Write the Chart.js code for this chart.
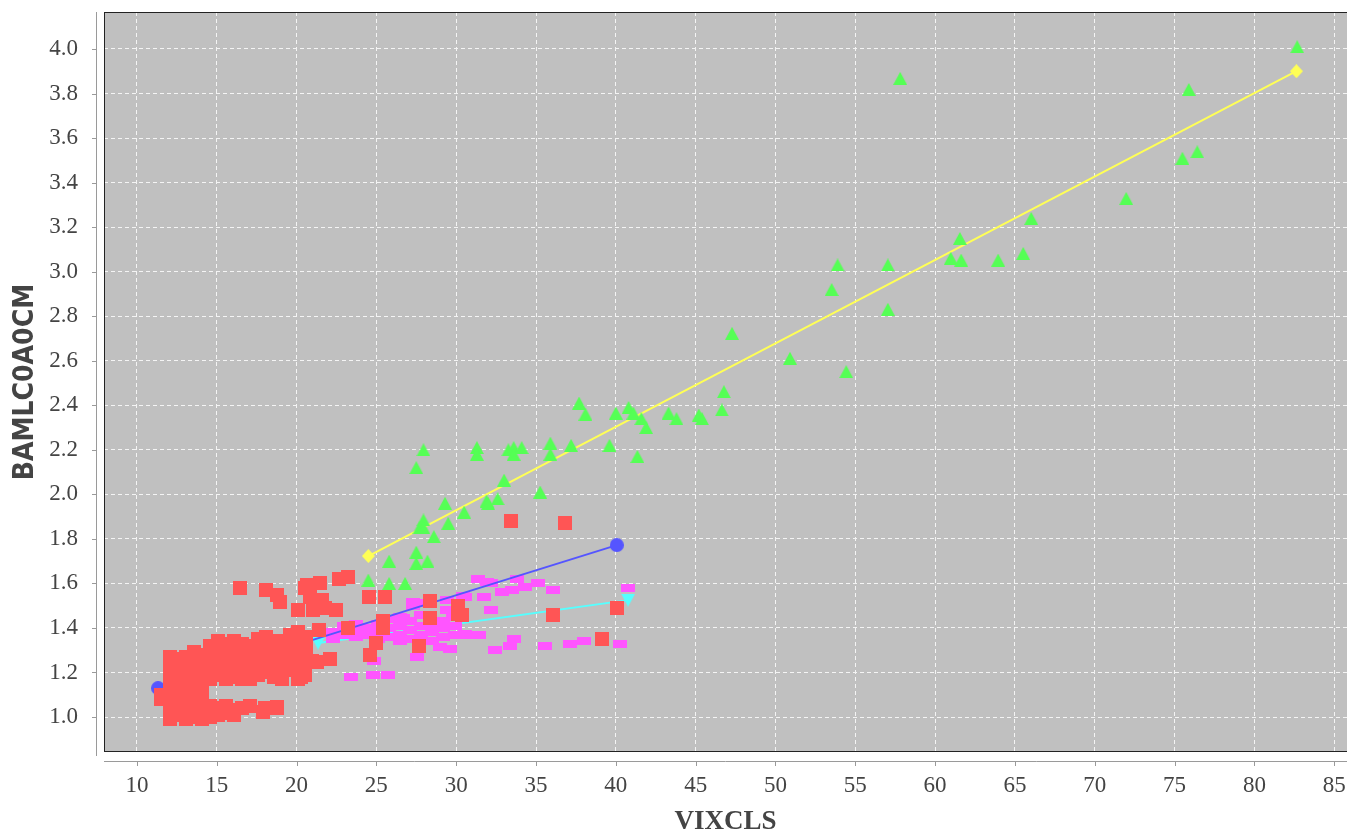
<!DOCTYPE html>
<html>

<head>
    <title>VIXCLS vs BAMLC0A0CM</title>
    <script src="https://cdn.jsdelivr.net/npm/chart.js"></script>
</head>

<body style="margin: 0; background-color: white; overflow: hidden;">

    <div style="width: 1347px; height: 834px;">
        <canvas id="grafico" width="1347" height="834" style="display: block;"></canvas>
    </div>

    <script>
        // red squares, low VIX regime
        const lowVol = [
            [11.5, 1.08], [11.5, 1.10],
            [12.1, 1.27], [12.1, 1.22], [12.1, 1.17], [12.1, 1.12], [12.1, 1.07], [12.1, 1.03], [12.1, 0.99],
            [12.6, 1.26], [12.6, 1.21], [12.6, 1.16], [12.6, 1.11], [12.6, 1.06], [12.6, 1.01],
            [13.1, 1.27], [13.1, 1.22], [13.1, 1.17], [13.1, 1.12], [13.1, 1.07], [13.1, 1.02], [13.1, 0.99],
            [13.6, 1.29], [13.6, 1.24], [13.6, 1.19], [13.6, 1.14], [13.6, 1.09], [13.6, 1.04], [13.6, 1.00],
            [14.1, 1.28], [14.1, 1.23], [14.1, 1.18], [14.1, 1.13], [14.1, 1.08], [14.1, 1.03], [14.1, 0.99],
            [14.6, 1.32], [14.6, 1.27], [14.6, 1.22], [14.6, 1.17], [14.6, 1.05], [14.6, 1.00],
            [15.1, 1.34], [15.1, 1.29], [15.1, 1.24], [15.1, 1.19], [15.1, 1.04], [15.1, 1.01],
            [15.6, 1.33], [15.6, 1.28], [15.6, 1.23], [15.6, 1.17], [15.6, 1.05], [15.6, 1.02],
            [16.1, 1.34], [16.1, 1.29], [16.1, 1.24], [16.1, 1.18], [16.1, 1.03], [16.1, 1.01],
            [16.6, 1.33], [16.6, 1.28], [16.6, 1.22], [16.6, 1.17], [16.6, 1.04],
            [17.1, 1.32], [17.1, 1.27], [17.1, 1.22], [17.1, 1.17], [17.1, 1.05],
            [17.6, 1.35], [17.6, 1.30], [17.6, 1.25], [17.6, 1.19],
            [18.1, 1.36], [18.1, 1.31], [18.1, 1.25], [18.1, 1.20],
            [17.92, 1.024], [18.0, 1.04], [18.76, 1.039], [18.8, 1.045],
            [18.6, 1.34], [18.6, 1.29], [18.6, 1.23], [18.6, 1.18],
            [19.1, 1.34], [19.1, 1.28], [19.1, 1.22], [19.1, 1.17],
            [19.6, 1.37], [19.6, 1.32], [19.6, 1.27], [19.6, 1.21],
            [20.1, 1.38], [20.1, 1.33], [20.1, 1.27], [20.1, 1.22], [20.1, 1.17],
            [20.6, 1.36], [20.6, 1.31], [20.6, 1.25],
            [20.28, 1.18], [20.5, 1.19], [21.0, 1.253], [21.27, 1.248], [22.08, 1.26],
            [21.39, 1.39], [23.2, 1.398], [25.42, 1.431], [25.42, 1.398], [25.0, 1.331], [24.6, 1.28],
            [16.44, 1.58], [18.07, 1.57], [18.76, 1.548], [18.97, 1.518],
            [20.53, 1.58], [20.64, 1.593], [21.47, 1.60], [20.85, 1.54], [21.58, 1.525],
            [21.05, 1.48], [21.8, 1.488], [20.1, 1.48], [22.68, 1.62], [23.25, 1.63], [22.45, 1.48],
            [24.52, 1.54], [25.56, 1.54],
            [27.68, 1.32], [28.36, 1.52], [28.36, 1.443], [30.14, 1.50], [30.14, 1.461], [30.35, 1.458],
            [33.42, 1.88], [36.82, 1.87], [36.07, 1.458], [40.1, 1.488], [39.16, 1.35]
        ];

        // green triangles, high VIX regime
        const highVol = [
            [24.5, 1.615], [25.8, 1.70], [25.8, 1.60], [26.8, 1.60], [27.5, 1.74], [27.5, 1.69],
            [28.2, 1.70], [27.5, 2.12], [27.95, 2.20], [27.7, 1.85], [27.95, 1.885], [27.95, 1.85],
            [28.6, 1.81], [29.3, 1.96], [29.5, 1.87], [30.5, 1.92], [31.3, 2.21], [31.3, 2.18],
            [31.9, 1.97], [32.0, 1.96], [32.6, 1.98], [33.0, 2.064], [33.27, 2.20], [33.6, 2.21],
            [33.6, 2.18], [34.1, 2.21], [35.26, 2.01], [35.9, 2.23], [35.9, 2.18], [37.2, 2.22],
            [37.7, 2.41], [38.1, 2.36], [39.6, 2.22], [40.0, 2.365], [40.8, 2.39], [41.1, 2.365],
            [41.6, 2.34], [41.9, 2.30], [41.35, 2.17], [43.3, 2.365], [43.8, 2.34], [45.2, 2.356],
            [45.4, 2.34], [46.64, 2.379], [46.77, 2.461], [47.28, 2.723], [50.91, 2.611],
            [53.52, 2.92], [53.89, 3.03], [54.43, 2.551], [57.04, 3.03], [57.04, 2.831],
            [57.81, 3.868], [60.98, 3.06], [61.55, 3.149], [61.63, 3.052], [63.95, 3.052],
            [65.52, 3.082], [66.02, 3.239], [71.97, 3.329], [75.49, 3.509], [75.89, 3.818],
            [76.42, 3.538], [82.68, 4.01]
        ];

        // magenta rectangles, middle regime
        const midVol = [
            [22.3, 1.35], [22.3, 1.38], [23.0, 1.37], [23.0, 1.41], [23.7, 1.39], [23.7, 1.36], [23.7, 1.42],
            [24.4, 1.40], [24.4, 1.37], [25.1, 1.42], [25.1, 1.38], [25.1, 1.35],
            [25.8, 1.44], [25.8, 1.40], [25.8, 1.36], [26.5, 1.45], [26.5, 1.41], [26.5, 1.37], [26.5, 1.34],
            [27.1, 1.43], [27.1, 1.39], [27.1, 1.35], [27.8, 1.46], [27.8, 1.41], [27.8, 1.37],
            [28.5, 1.42], [28.5, 1.38], [28.5, 1.34], [29.2, 1.43], [29.2, 1.40], [29.2, 1.36],
            [29.9, 1.41], [29.9, 1.37],
            [27.3, 1.50], [27.3, 1.518], [27.8, 1.51], [26.7, 1.445], [29.4, 1.525], [29.4, 1.48],
            [29.8, 1.45], [30.45, 1.542], [30.56, 1.54], [30.55, 1.373], [29.0, 1.313], [29.6, 1.304],
            [24.84, 1.251], [27.55, 1.27], [23.43, 1.18], [24.8, 1.19], [25.73, 1.19],
            [31.37, 1.62], [31.9, 1.605], [32.2, 1.60], [33.8, 1.62], [32.9, 1.56], [33.5, 1.571],
            [34.3, 1.582], [35.1, 1.60], [36.07, 1.569], [40.79, 1.58], [31.77, 1.54], [32.2, 1.48],
            [30.77, 1.37], [31.46, 1.37], [33.6, 1.352], [33.36, 1.32], [32.46, 1.30], [35.55, 1.32],
            [37.16, 1.329], [38.0, 1.341], [40.27, 1.329]
        ];

        // fitted lines (start, end)
        const lowFit = [[11.33, 1.13], [40.06, 1.772]];
        const highFit = [[24.5, 1.723], [82.63, 3.90]];
        const midFit = [[21.35, 1.332], [40.77, 1.525]];

        const xTicks = [10, 15, 20, 25, 30, 35, 40, 45, 50, 55, 60, 65, 70, 75, 80, 85];
        const yTicks = [1.0, 1.2, 1.4, 1.6, 1.8, 2.0, 2.2, 2.4, 2.6, 2.8, 3.0, 3.2, 3.4, 3.6, 3.8, 4.0];

        const pts = arr => arr.map(p => ({ x: p[0], y: p[1] }));

        // little canvas shapes for the markers
        function forma(tipo, w, h, cor) {
            const c = document.createElement('canvas');
            c.width = w;
            c.height = h;
            const g = c.getContext('2d');
            g.fillStyle = cor;
            g.beginPath();
            if (tipo === 'rect') {
                g.rect(0, 0, w, h);
            } else if (tipo === 'up') {
                g.moveTo(w / 2, 0); g.lineTo(w, h); g.lineTo(0, h);
            } else if (tipo === 'down') {
                g.moveTo(0, 0); g.lineTo(w, 0); g.lineTo(w / 2, h);
            } else if (tipo === 'diamond') {
                g.moveTo(w / 2, 0); g.lineTo(w, h / 2); g.lineTo(w / 2, h); g.lineTo(0, h / 2);
            } else {
                g.arc(w / 2, h / 2, w / 2, 0, Math.PI * 2);
            }
            g.closePath();
            g.fill();
            return c;
        }

        const serif = "'Liberation Serif', 'Times New Roman', serif";
        const texto = '#444444';

        const moldura = {
            id: 'moldura',
            beforeDraw(chart) {
                const { ctx, chartArea: a } = chart;
                ctx.save();
                ctx.fillStyle = '#c0c0c0';
                ctx.fillRect(a.left, a.top, a.right - a.left, a.bottom - a.top);
                ctx.restore();
            },
            afterDraw(chart) {
                const { ctx, chartArea: a, scales } = chart;
                ctx.save();
                ctx.strokeStyle = '#222222';
                ctx.lineWidth = 1;
                ctx.strokeRect(a.left + 0.5, a.top + 0.5, a.right - a.left, a.bottom - a.top - 1);

                ctx.strokeStyle = '#9a9a9a';
                ctx.beginPath();
                ctx.moveTo(96.5, a.top);
                ctx.lineTo(96.5, a.bottom + 4);
                ctx.moveTo(a.left, a.bottom + 9.5);
                ctx.lineTo(a.right, a.bottom + 9.5);
                yTicks.forEach(v => {
                    const y = Math.round(scales.y.getPixelForValue(v)) + 0.5;
                    ctx.moveTo(92, y);
                    ctx.lineTo(96.5, y);
                });
                xTicks.forEach(v => {
                    const x = Math.round(scales.x.getPixelForValue(v)) + 0.5;
                    ctx.moveTo(x, a.bottom + 9.5);
                    ctx.lineTo(x, a.bottom + 14);
                });
                ctx.stroke();
                ctx.restore();
            }
        };

        const ctx = document.getElementById('grafico').getContext('2d');
        new Chart(ctx, {
            type: 'scatter',
            data: {
                datasets: [
                    {
                        label: 'Baixa volatilidade',
                        data: pts(lowVol),
                        pointStyle: forma('rect', 14, 14, '#ff5555'),
                        pointRadius: 7
                    },
                    {
                        label: 'Ajuste baixa',
                        data: pts(lowFit),
                        showLine: true,
                        borderColor: '#5555ff',
                        borderWidth: 2,
                        pointStyle: forma('circle', 14, 14, '#5555ff'),
                        pointRadius: 7
                    },
                    {
                        label: 'Alta volatilidade',
                        data: pts(highVol),
                        pointStyle: forma('up', 14, 13, '#55ff55'),
                        pointRadius: 7
                    },
                    {
                        label: 'Ajuste alta',
                        data: pts(highFit),
                        showLine: true,
                        borderColor: '#ffff55',
                        borderWidth: 2,
                        pointStyle: forma('diamond', 13, 14, '#ffff55'),
                        pointRadius: 7
                    },
                    {
                        label: 'Média volatilidade',
                        data: pts(midVol),
                        pointStyle: forma('rect', 14, 8, '#ff55ff'),
                        pointRadius: 7
                    },
                    {
                        label: 'Ajuste média',
                        data: pts(midFit),
                        showLine: true,
                        borderColor: '#55ffff',
                        borderWidth: 2,
                        pointStyle: forma('down', 14, 13, '#55ffff'),
                        pointRadius: 7
                    }
                ]
            },
            plugins: [moldura],
            options: {
                responsive: false,
                animation: false,
                layout: { autoPadding: false, padding: { top: 12, right: 0, bottom: 0, left: 0 } },
                scales: {
                    x: {
                        type: 'linear',
                        min: 7.94,
                        max: 85.8,
                        afterBuildTicks: s => { s.ticks = xTicks.map(v => ({ value: v })); },
                        afterFit: s => { s.height = 82; s.paddingLeft = 0; s.paddingRight = 0; },
                        grid: { color: '#f4f4f4', lineWidth: 1, drawTicks: false },
                        border: { display: false, dash: [4, 3] },
                        ticks: {
                            padding: 20,
                            color: texto,
                            font: { family: serif, size: 23 },
                            callback: v => String(v)
                        },
                        title: {
                            display: true,
                            text: 'VIXCLS',
                            color: texto,
                            font: { family: serif, size: 27, weight: 'bold', lineHeight: 0.9 },
                            padding: { top: 0, bottom: 0 }
                        }
                    },
                    y: {
                        type: 'linear',
                        min: 0.843,
                        max: 4.166,
                        afterBuildTicks: s => { s.ticks = yTicks.map(v => ({ value: v })); },
                        afterFit: s => { s.width = 104; s.paddingTop = 0; s.paddingBottom = 0; },
                        grid: { color: '#f4f4f4', lineWidth: 1, drawTicks: false },
                        border: { display: false, dash: [4, 3] },
                        ticks: {
                            padding: 26,
                            color: texto,
                            font: { family: serif, size: 23 },
                            callback: v => Number(v).toFixed(1)
                        },
                        title: {
                            display: true,
                            text: 'BAMLC0A0CM',
                            color: texto,
                            font: { family: "'DejaVu Sans Condensed', 'Liberation Sans Narrow', 'DejaVu Sans', sans-serif", size: 28, weight: 'bold' },
                            padding: { top: 9, bottom: 0 }
                        }
                    }
                },
                plugins: {
                    legend: { display: false },
                    tooltip: { enabled: false }
                }
            }
        });
    </script>
</body>

</html>
